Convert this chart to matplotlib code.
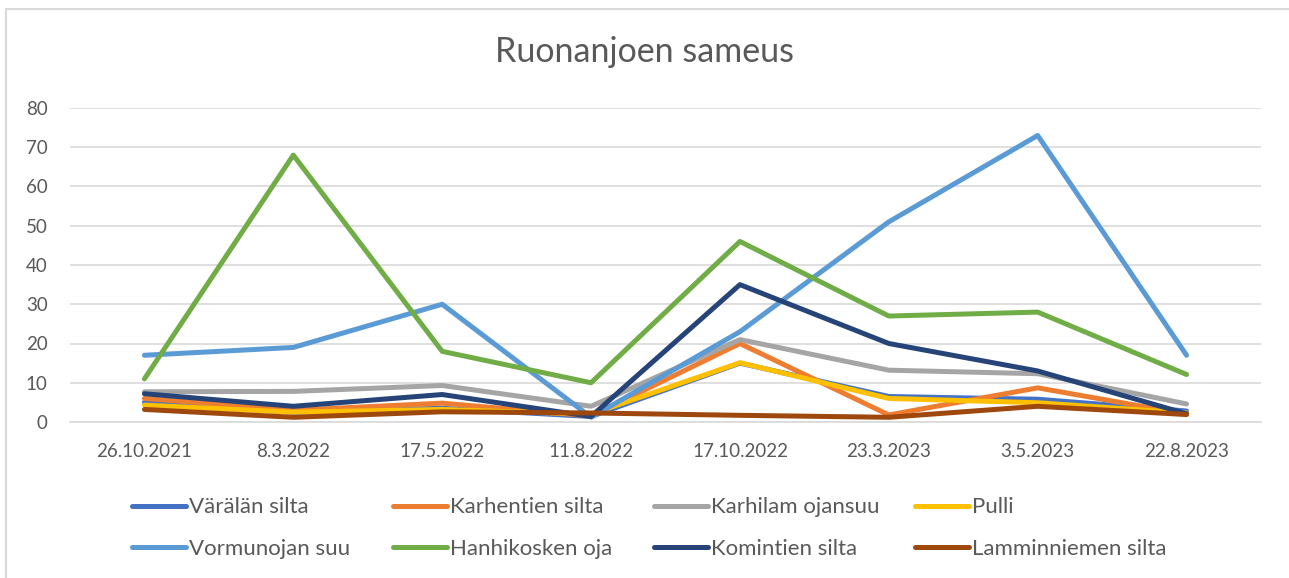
import numpy as np
import matplotlib
matplotlib.use("Agg")
import matplotlib.pyplot as plt
from matplotlib.patches import Rectangle

plt.rcParams['font.family'] = ['Lato', 'DejaVu Sans']

paivat = ['26.10.2021', '8.3.2022', '17.5.2022', '11.8.2022',
          '17.10.2022', '23.3.2023', '3.5.2023', '22.8.2023']

sarjat = ['Värälän silta', 'Karhentien silta', 'Karhilam ojansuu', 'Pulli',
          'Vormunojan suu', 'Hanhikosken oja', 'Komintien silta',
          'Lamminniemen silta']

varalan_silta = [5.0, 2.5, 3.5, 1.4, 15.0, 6.5, 5.8, 2.8]
karhentien_silta = [6.0, 3.0, 4.8, 1.5, 20.0, 1.8, 8.7, 2.0]
karhilam_ojansuu = [7.7, 7.8, 9.3, 4.0, 21.0, 13.2, 12.3, 4.6]
pulli = [4.3, 2.5, 3.2, 2.0, 15.1, 6.0, 4.9, 2.3]
vormunojan_suu = [17.0, 19.0, 30.0, 1.2, 23.0, 51.0, 73.0, 17.0]
hanhikosken_oja = [11.0, 68.0, 18.0, 10.0, 46.0, 27.0, 28.0, 12.1]
komintien_silta = [7.2, 4.0, 7.0, 1.4, 35.0, 20.0, 13.0, 2.1]
lamminniemen_silta = [3.2, 1.2, 2.6, 2.3, 1.7, 1.2, 4.0, 1.9]

arvot = [varalan_silta, karhentien_silta, karhilam_ojansuu, pulli,
         vormunojan_suu, hanhikosken_oja, komintien_silta, lamminniemen_silta]

varit = ['#4472C4', '#ED7D31', '#A5A5A5', '#FFC000',
         '#5B9BD5', '#70AD47', '#264478', '#9E480E']

teksti = '#595959'

fig = plt.figure(figsize=(12.89, 5.78), dpi=100)
ax = fig.add_axes([70 / 1289, 1 - 422 / 578, 1191 / 1289, 314 / 578])

x = np.arange(len(paivat))
viivat = []
for nimi, y, c in zip(sarjat, arvot, varit):
    l, = ax.plot(x, y, color=c, lw=3.6, label=nimi,
                 solid_capstyle='round', solid_joinstyle='round')
    viivat.append(l)

ax.set_xlim(-0.5, len(paivat) - 0.5)
ax.set_ylim(0, 80)
ax.set_yticks(range(0, 81, 10))
ax.set_xticks(x)
ax.set_xticklabels(paivat)
ax.grid(axis='y', color='#D9D9D9', lw=1.2)
ax.set_axisbelow(True)
for s in ['top', 'right', 'left']:
    ax.spines[s].set_visible(False)
ax.spines['bottom'].set_color('#D9D9D9')
ax.spines['bottom'].set_linewidth(1.2)
ax.tick_params(axis='both', length=0, labelsize=13.5, labelcolor=teksti)
ax.tick_params(axis='y', pad=16)
ax.tick_params(axis='x', pad=15)

fig.text(0.5, 1 - 52 / 578, 'Ruonanjoen sameus', ha='center', va='center',
         fontsize=24.5, color=teksti)

# Excelin legenda: neljä yhtä leveää saraketta, kaksi riviä
for k in range(4):
    leg = fig.legend([viivat[k], viivat[k + 4]], [sarjat[k], sarjat[k + 4]],
                     loc='center left',
                     bbox_to_anchor=((132 + 261 * k) / 1289, 1 - 528 / 578),
                     frameon=False, fontsize=16, handlelength=2.45,
                     handletextpad=0.12, labelspacing=0.95,
                     borderpad=0, borderaxespad=0)
    for t in leg.get_texts():
        t.set_color(teksti)

fig.patches.append(Rectangle((6 / 1289, -0.05), 1.1, 1 - 9 / 578 + 0.05,
                             transform=fig.transFigure, fill=False,
                             edgecolor='#D9D9D9', lw=1.5))

fig.savefig('out.png', dpi=100)
